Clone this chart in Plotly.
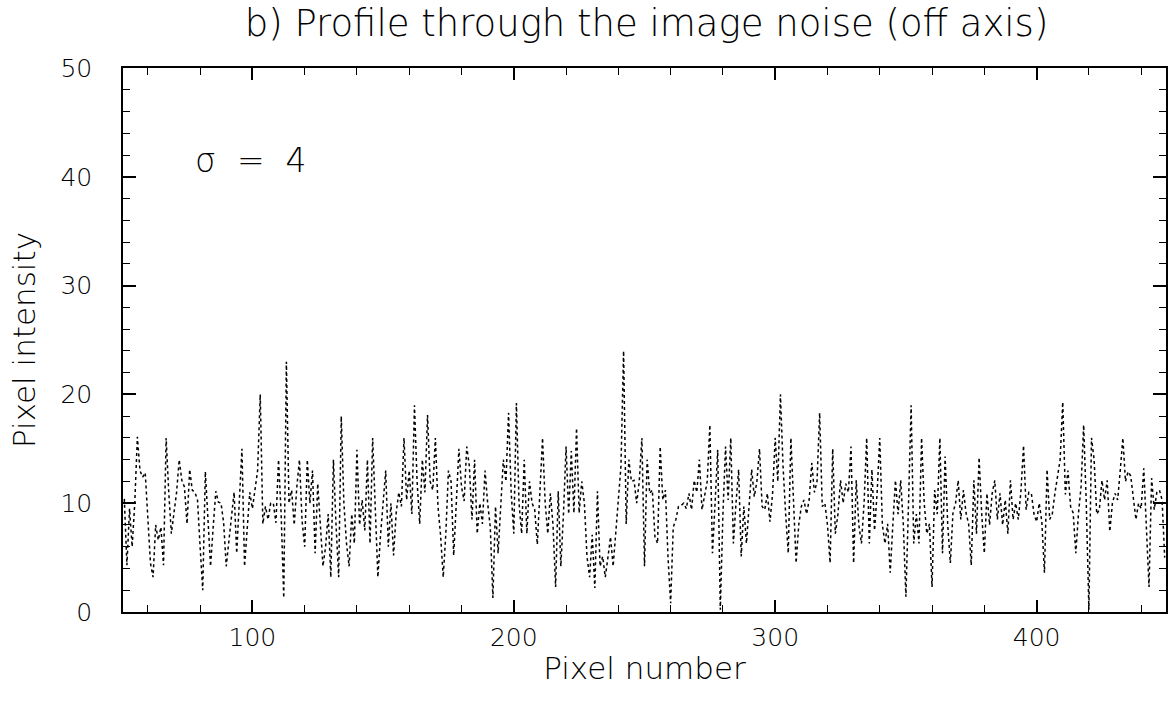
import plotly.graph_objects as go

# Pixel intensity profile (one value per pixel, starting at pixel 51)
first_pixel = 51
intensity = [
    10.4, 4.3, 9.5, 6.0, 10.0, 16.1, 13.0, 12.4, 12.8, 8.5,      # 51-60
    4.5, 3.2, 8.0, 6.6, 7.8, 4.3, 16.0, 11.0, 7.2, 9.1,          # 61-70
    11.0, 14.0, 12.1, 11.5, 8.1, 13.1, 11.2, 11.0, 10.3, 6.0,    # 71-80
    2.0, 12.9, 8.0, 4.2, 7.8, 11.1, 10.1, 10.0, 8.2, 4.2,        # 81-90
    6.5, 9.0, 11.0, 5.4, 10.5, 15.0, 4.2, 8.0, 11.0, 9.5,        # 91-100
    11.1, 13.0, 20.0, 8.1, 9.7, 8.5, 10.0, 10.0, 8.2, 14.0,      # 101-110
    9.0, 1.3, 23.0, 10.0, 11.2, 8.0, 11.5, 14.0, 8.4, 6.0,       # 111-120
    14.0, 10.0, 13.0, 5.4, 11.8, 8.0, 4.2, 6.0, 9.0, 3.2,        # 121-130
    14.0, 8.0, 3.2, 18.0, 10.0, 6.3, 4.2, 9.0, 6.3, 14.9,        # 131-140
    8.0, 10.3, 7.5, 14.0, 6.3, 16.0, 9.0, 3.2, 7.0, 10.0,        # 141-150
    13.0, 6.0, 10.0, 5.2, 9.1, 11.0, 9.7, 16.0, 10.3, 13.0,      # 151-160
    9.0, 19.0, 12.0, 8.1, 14.0, 11.0, 18.1, 12.0, 11.2, 16.0,    # 161-170
    9.7, 7.0, 3.2, 7.2, 13.0, 12.0, 5.2, 10.0, 15.0, 11.5,       # 171-180
    10.2, 15.2, 13.4, 8.5, 14.0, 7.2, 10.0, 8.1, 13.0, 10.0,     # 181-190
    7.8, 1.3, 9.7, 5.4, 9.7, 14.0, 12.0, 18.3, 11.0, 7.2,        # 191-200
    19.2, 10.0, 7.2, 14.0, 7.2, 12.0, 10.0, 9.4, 6.2, 11.0,      # 201-210
    16.0, 10.0, 7.2, 10.9, 8.0, 2.3, 11.1, 4.2, 9.0, 15.2,       # 211-220
    9.0, 14.8, 9.1, 16.9, 9.1, 12.0, 10.0, 5.1, 3.2, 7.1,        # 221-230
    2.2, 11.1, 4.2, 5.1, 3.2, 5.0, 6.9, 4.2, 7.5, 10.0,          # 231-240
    13.4, 24.0, 8.1, 14.0, 12.0, 12.1, 10.0, 12.0, 16.0, 4.2,    # 241-250
    14.0, 10.9, 11.2, 6.9, 6.3, 15.2, 10.3, 11.2, 5.0, 0.8,      # 251-260
    7.8, 8.5, 9.7, 9.8, 10.0, 9.5, 10.9, 9.4, 12.1, 11.0,        # 261-270
    14.0, 9.4, 10.6, 12.0, 17.2, 5.4, 10.0, 14.9, 0.2, 9.0,      # 271-280
    15.2, 10.3, 16.0, 6.3, 10.0, 13.1, 5.1, 9.7, 6.3, 10.0,      # 281-290
    13.1, 10.6, 12.0, 15.0, 9.7, 9.4, 10.9, 8.3, 10.9, 16.0,     # 291-300
    12.0, 20.0, 13.4, 9.0, 5.4, 16.0, 9.7, 4.5, 8.0, 9.7,        # 301-310
    10.3, 9.0, 10.3, 13.7, 11.0, 12.0, 18.3, 9.7, 10.0, 8.0,     # 311-320
    4.5, 15.0, 7.2, 9.0, 12.1, 10.0, 11.8, 11.0, 15.2, 4.5,      # 321-330
    12.1, 8.0, 6.3, 10.0, 16.0, 6.3, 13.1, 7.5, 11.0, 16.0,      # 331-340
    8.0, 6.3, 8.1, 3.6, 8.0, 12.1, 9.0, 12.1, 8.1, 1.4,          # 341-350
    10.0, 19.0, 6.3, 9.0, 6.3, 16.0, 10.0, 7.2, 8.1, 2.3,        # 351-360
    11.2, 9.0, 16.0, 5.4, 14.3, 8.0, 4.5, 9.1, 10.0, 12.1,       # 361-370
    8.5, 11.2, 9.1, 8.1, 4.3, 12.1, 7.2, 14.2, 9.0, 5.4,         # 371-380
    10.9, 8.0, 10.9, 12.1, 8.5, 10.9, 8.0, 10.3, 7.2, 12.1,      # 381-390
    8.5, 10.0, 8.5, 11.1, 15.3, 9.4, 11.0, 10.9, 9.0, 8.3,       # 391-400
    10.0, 8.3, 3.6, 13.1, 8.5, 9.0, 10.9, 12.3, 14.0, 19.3,      # 401-410
    10.8, 13.0, 9.7, 9.1, 5.4, 9.0, 11.5, 17.2, 10.0, 0.2,       # 411-420
    16.0, 14.0, 9.0, 9.4, 12.1, 10.3, 12.1, 7.4, 10.0, 10.9,     # 421-430
    10.3, 13.0, 16.0, 12.0, 12.9, 12.5, 10.3, 8.5, 10.0, 9.5,    # 431-440
    13.2, 8.0, 2.3, 12.3, 9.4, 11.0, 11.2, 10.3, 5.0,            # 441-449
]
pixel_number = list(range(first_pixel, first_pixel + len(intensity)))

x_ticks = [100, 200, 300, 400]
y_ticks = [0, 10, 20, 30, 40, 50]

title_text = "b) Profile through the image noise (off axis)"
x_title = "Pixel number"
y_title = "Pixel intensity"
sigma_label = "σ  =  4"

FONT = "DejaVu Sans ExtraLight, DejaVu Sans"
W = 200

fig = go.Figure()
fig.add_trace(go.Scatter(
    x=pixel_number, y=intensity, mode="lines",
    line=dict(color="black", width=1.5, dash="dot"),
    showlegend=False, hoverinfo="x+y",
))

axis_common = dict(
    showline=True, linecolor="black", linewidth=1.6, mirror="ticks",
    ticks="inside", tickcolor="black", tickwidth=1.6,
    showgrid=False, zeroline=False,
    tickfont=dict(family=FONT, size=25, color="black", weight=W),
)

fig.update_xaxes(
    range=[50.5, 449.5], tickvals=x_ticks, ticklen=12,
    minor=dict(ticks="inside", dtick=20, ticklen=7, tickcolor="black", tickwidth=1.4),
    ticklabelstandoff=2,
    title=dict(text=x_title, font=dict(family=FONT, size=31, color="black", weight=W), standoff=7),
    **axis_common,
)
fig.update_yaxes(
    range=[0, 50], tickvals=y_ticks, ticklen=13,
    minor=dict(ticks="inside", dtick=2, ticklen=7, tickcolor="black", tickwidth=1.4),
    ticklabelstandoff=24,
    title=dict(text=y_title, font=dict(family=FONT, size=31, color="black", weight=W), standoff=16),
    **axis_common,
)

fig.add_annotation(
    x=99.6, y=41.5, xref="x", yref="y", text=sigma_label, showarrow=False,
    font=dict(family=FONT, size=33, color="black", weight=W),
)

fig.update_layout(
    width=1170, height=712,
    margin=dict(l=123, r=2, t=68, b=100),
    paper_bgcolor="white", plot_bgcolor="white",
    title=dict(text=title_text, x=0.5526, xanchor="center", y=0.968, yanchor="middle",
               font=dict(family=FONT, size=37, color="black", weight=W)),
)

fig.write_html("out.html")
